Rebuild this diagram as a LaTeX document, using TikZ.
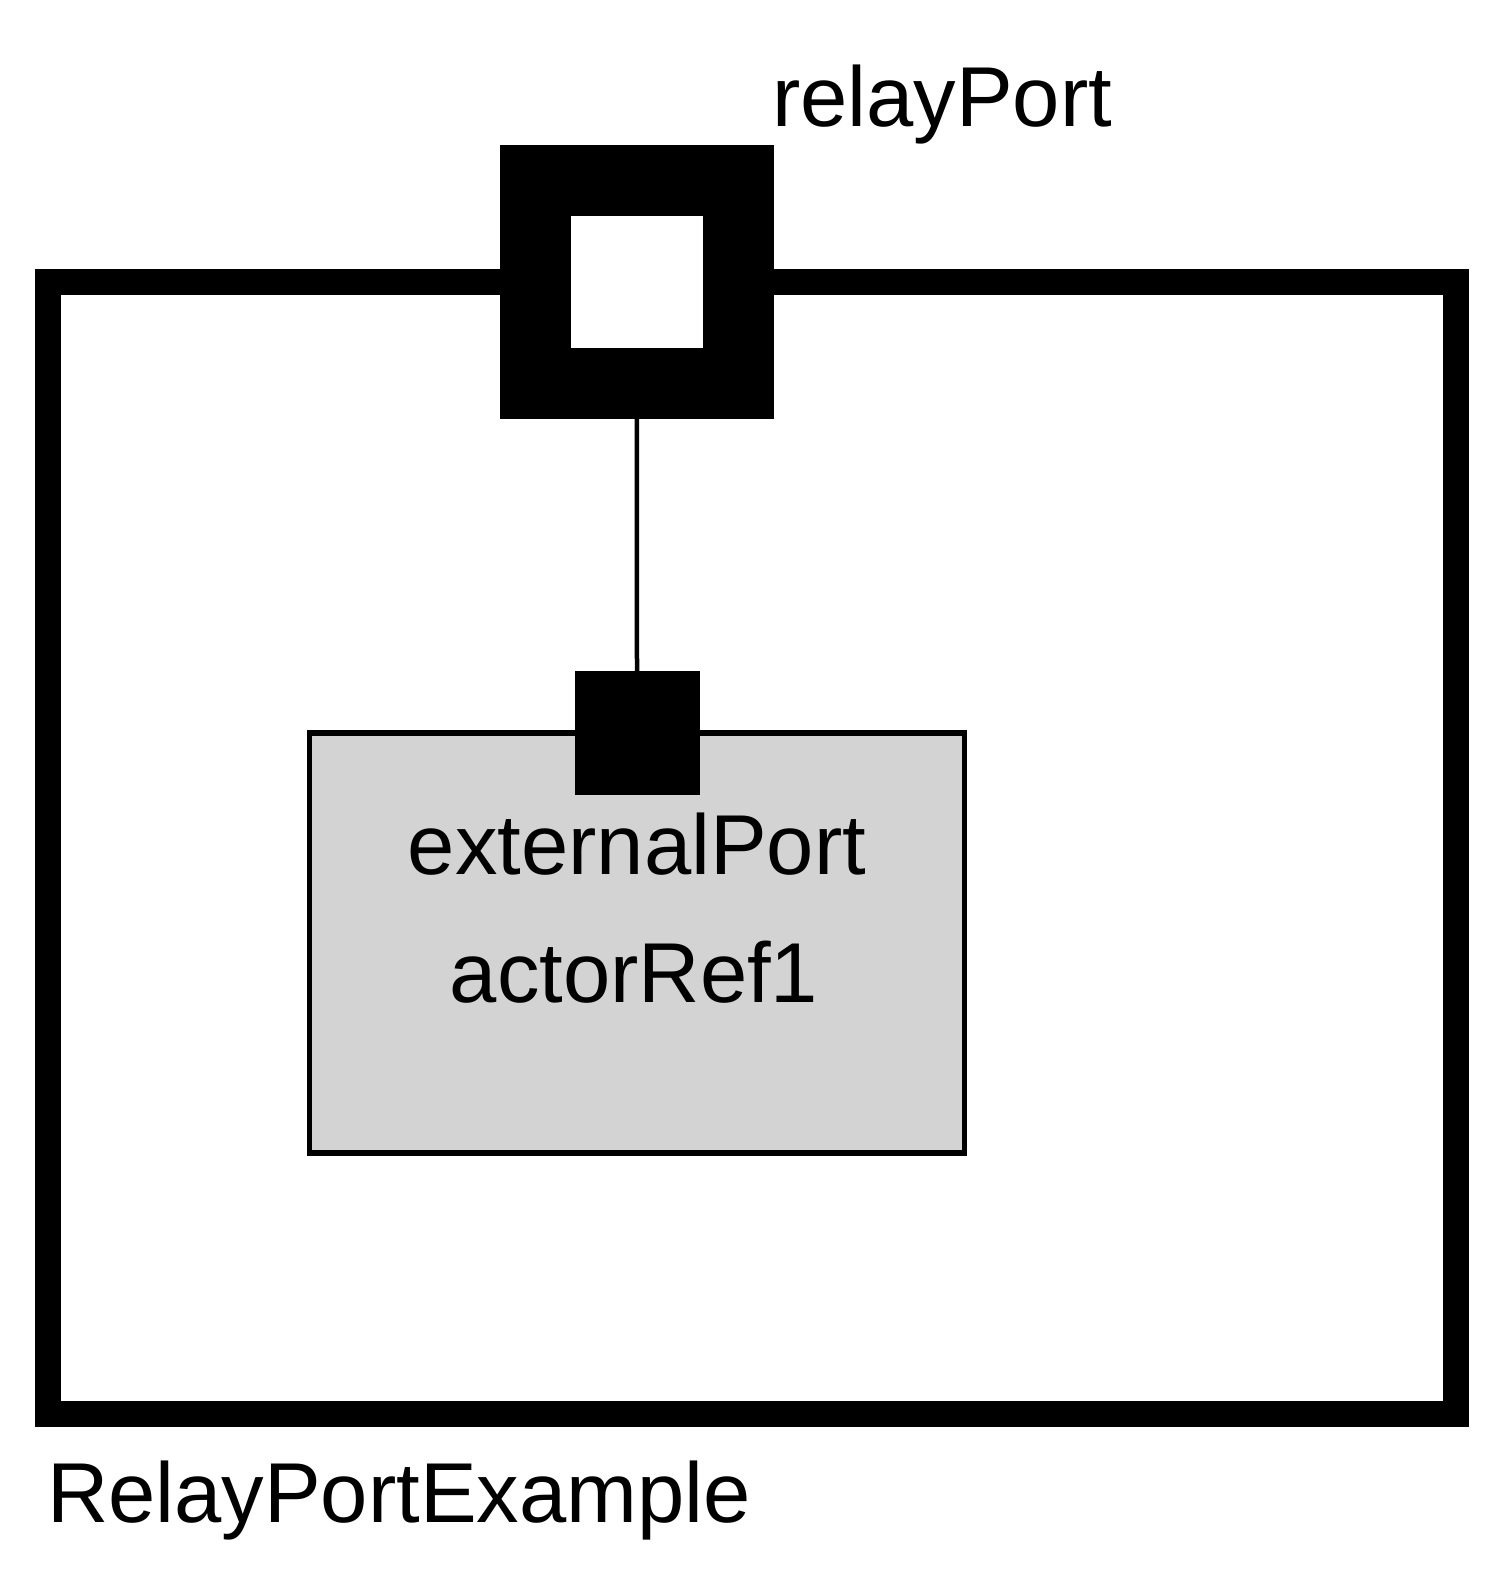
\documentclass[tikz,border=0pt]{standalone}
\usepackage{fontspec}
\setmainfont{Liberation Sans}
\begin{document}
\begin{tikzpicture}[x=1pt,y=-1pt,
  lbl/.style={inner sep=0pt, outer sep=0pt, font=\fontsize{85}{100}\selectfont},
  box/.style={inner sep=0pt, outer sep=0pt},
  modelbox/.style={box, draw=black, line width=26pt, fill=white},
  relaybox/.style={box, draw=black, line width=71.5pt, fill=white, minimum width=203pt, minimum height=203pt},
  portbox/.style={box, fill=black, minimum width=125pt, minimum height=124pt},
  actorbox/.style={box, draw=black, line width=5.5pt, fill=actorgray},
  wire/.style={draw=black, line width=4.5pt}]
\definecolor{actorgray}{RGB}{211,211,211}
\useasboundingbox (0,0) rectangle (1509,1579);
\node[modelbox, minimum width=1408pt, minimum height=1132pt] (model) at (752,847.6) {};
\node[actorbox, minimum width=655pt, minimum height=420pt] (actor) at (637,943) {};
\node[relaybox] (relay) at (636.8,281.8) {};
\node[portbox] (ext) at (637,733) {};
\draw[wire] (relay.south) -- (ext.north);
\node[lbl, anchor=base west] (relaylabel) at (772,126) {relayPort};
\node[lbl, anchor=base] (extlabel) at (637,874.5) {externalPort};
\node[lbl, anchor=base] (actorlabel) at (634,1002) {actorRef1};
\node[lbl, anchor=base west] (modellabel) at (47,1522) {RelayPortExample};
\end{tikzpicture}
\end{document}
